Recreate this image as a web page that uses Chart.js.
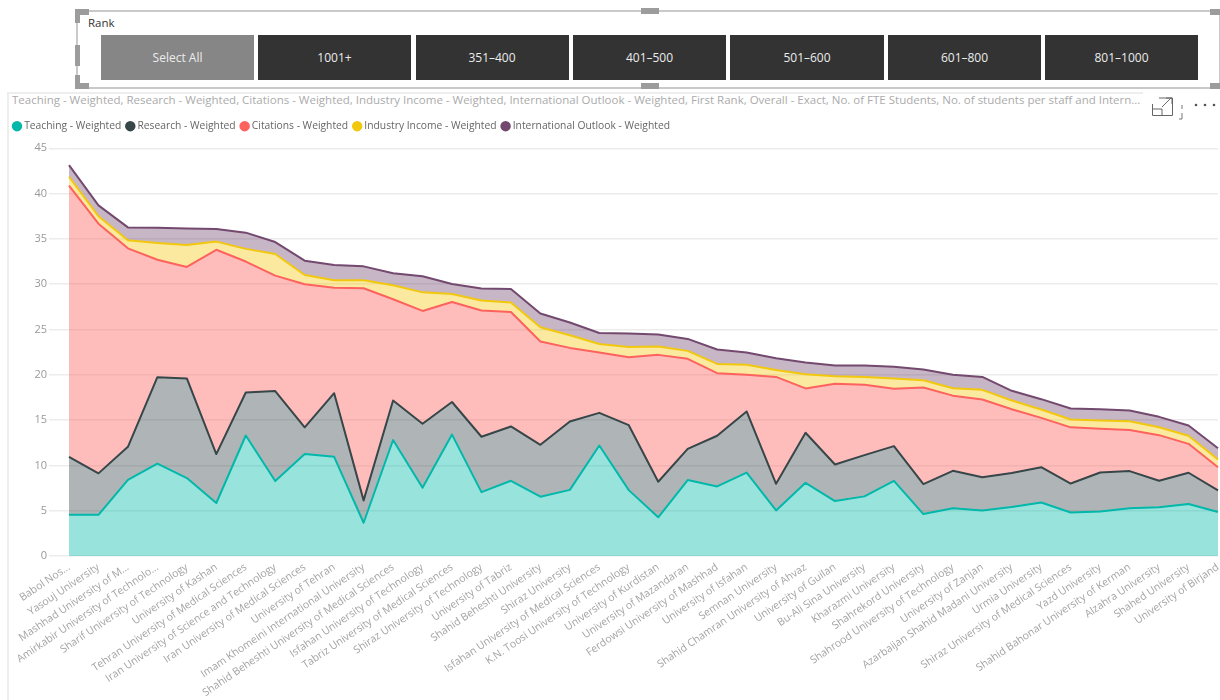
<!DOCTYPE html>
<html><head><meta charset="utf-8">
<script src="https://cdn.jsdelivr.net/npm/chart.js@4"></script>
<style>
html,body{margin:0;padding:0;background:#fff;width:1220px;height:700px;overflow:hidden;font-family:"Open Sans",sans-serif}
.abs{position:absolute}
#frame{left:76px;top:10px;width:1141px;height:75px;border:2px solid #c9c9c9}
.h{position:absolute;background:#9c9c9c}
.btn{position:absolute;top:35px;height:45px;width:153px;background:#333;color:#ececec;font-size:12px;line-height:46px;text-align:center}
#title{left:12px;top:92px;width:1132px;font-size:11.5px;color:#ababab;white-space:nowrap;overflow:hidden;line-height:16px}
#chartWrap{left:8px;top:114px;width:1212px;height:586px}
</style></head><body>
<div class="abs" id="frame"></div>
<div class="h" style="left:75px;top:9px;width:14px;height:6px"></div><div class="h" style="left:75px;top:9px;width:5px;height:14px"></div>
<div class="h" style="left:75px;top:83px;width:14px;height:6px"></div><div class="h" style="left:75px;top:75px;width:5px;height:14px"></div>
<div class="h" style="left:75px;top:45px;width:5px;height:21px"></div>
<div class="h" style="left:641px;top:8px;width:18px;height:6px"></div>
<div class="h" style="left:641px;top:83px;width:18px;height:6px"></div>
<div class="h" style="left:1210px;top:9px;width:10px;height:6px"></div>
<div class="h" style="left:1210px;top:83px;width:10px;height:6px"></div>
<div class="abs" style="left:88px;top:15px;font-size:11.5px;color:#333;line-height:16px">Rank</div>
<div class="btn" style="left:101px;background:#868686">Select All</div>
<div class="btn" style="left:258px">1001+</div>
<div class="btn" style="left:415.5px">351–400</div>
<div class="btn" style="left:573px">401–500</div>
<div class="btn" style="left:730px;width:154px">501–600</div>
<div class="btn" style="left:888px">601–800</div>
<div class="btn" style="left:1045px">801–1000</div>
<div class="abs" style="left:7px;top:92px;width:1136px;height:2px;background:#eee"></div>
<div class="abs" style="left:7px;top:92px;width:2px;height:608px;background:#eee"></div>
<div class="abs" id="title">Teaching - Weighted, Research - Weighted, Citations - Weighted, Industry Income - Weighted, International Outlook - Weighted, First Rank, Overall - Exact, No. of FTE Students, No. of students per staff and Intern...</div>
<svg class="abs" style="left:1150px;top:95px;z-index:2" width="70" height="30" fill="none" stroke="#666" stroke-width="1">
<path d="M2.5 9V20.5H22.5V3H9"/><path d="M2.5 14H12V20.5"/><path d="M12 12L21 3M16 3H22V9"/>
<path d="M32 10V14M32 18V24M32 24H29" stroke="#777"/>
<circle cx="46" cy="10" r="1.3" fill="#555" stroke="none"/><circle cx="55" cy="10" r="1.3" fill="#555" stroke="none"/><circle cx="64" cy="10" r="1.3" fill="#555" stroke="none"/>
</svg>
<div class="abs" id="chartWrap"><canvas id="c" width="1212" height="586"></canvas></div>
<script>
const categories = ["Babol Nos...","Yasouj University","Mashhad University of M...","Amirkabir University of Technolo...","Sharif University of Technology","University of Kashan","Tehran University of Medical Sciences","Iran University of Science and Technology","Iran University of Medical Sciences","University of Tehran","Imam Khomeini International University","Shahid Beheshti University of Medical Sciences","Isfahan University of Technology","Tabriz University of Medical Sciences","Shiraz University of Technology","University of Tabriz","Shahid Beheshti University","Shiraz University","Isfahan University of Medical Sciences","K.N. Toosi University of Technology","University of Kurdistan","University of Mazandaran","Ferdowsi University of Mashhad","University of Isfahan","Semnan University","Shahid Chamran University of Ahvaz","University of Guilan","Bu-Ali Sina University","Kharazmi University","Shahrekord University","Shahrood University of Technology","University of Zanjan","Azarbaijan Shahid Madani University","Urmia University","Shiraz University of Medical Sciences","Yazd University","Shahid Bahonar University of Kerman","Alzahra University","Shahed University","University of Birjand"];
const teaching = [4.55,4.55,8.4,10.2,8.6,5.85,13.3,8.27,11.25,10.95,3.67,12.8,7.53,13.4,7.05,8.3,6.55,7.3,12.2,7.27,4.27,8.38,7.68,9.2,5.03,8.08,6.06,6.58,8.3,4.63,5.26,5.03,5.4,5.9,4.8,4.92,5.26,5.37,5.73,4.85];
const research = [6.4,4.57,3.65,9.54,11.0,5.4,4.75,9.93,2.95,7.02,2.47,4.36,7.07,3.6,6.11,6.0,5.72,7.55,3.6,7.17,3.93,3.45,5.59,6.75,2.94,5.52,4.04,4.55,3.83,3.31,4.14,3.67,3.75,3.9,3.2,4.3,4.11,2.93,3.46,2.39];
const citations = [29.92,27.56,21.91,12.96,12.3,22.55,14.45,12.75,15.79,11.63,23.41,11.18,12.45,11.04,13.93,12.64,11.4,8.12,6.65,7.5,14.0,9.93,6.91,4.05,11.8,4.9,8.9,7.77,6.32,10.66,8.3,8.57,7.05,5.45,6.2,4.82,4.53,5.04,3.19,2.56];
const industry = [0.99,0.82,0.88,1.85,2.42,0.9,1.4,2.38,1.03,0.83,0.88,1.54,2.05,0.88,1.11,1.03,1.58,1.4,0.95,1.14,0.92,0.88,1.02,1.1,0.77,1.57,0.84,0.87,1.15,0.8,0.82,1.07,0.97,0.92,0.87,0.92,0.98,0.88,0.89,0.86];
const international = [1.29,1.2,1.43,1.69,1.84,1.39,1.79,1.32,1.58,1.69,1.54,1.32,1.77,1.11,1.32,1.5,1.51,1.4,1.22,1.47,1.32,1.32,1.59,1.35,1.29,1.28,1.18,1.25,1.3,1.18,1.48,1.43,1.06,1.14,1.21,1.24,1.18,1.14,1.13,1.24];
const yTicks = [0,5,10,15,20,25,30,35,40,45];
const seriesNames = ["Teaching - Weighted","Research - Weighted","Citations - Weighted","Industry Income - Weighted","International Outlook - Weighted"];
const seriesValues = [teaching,research,citations,industry,international];
const colors = ["#01B8AA","#374649","#FD625E","#F2C80F","#73496F"];
const fills = ["rgba(1,184,170,.4)","rgba(55,70,73,.4)","rgba(253,98,94,.42)","rgba(242,200,15,.4)","rgba(115,73,111,.4)"];
const FONT = '"Open Sans", sans-serif';
const legendGap = {id:'legendGap',beforeInit(chart){const f=chart.legend.fit;chart.legend.fit=function(){f.call(this);this.height+=7;};}};
new Chart(document.getElementById('c'), {
  type:'line',
  plugins:[legendGap],
  data:{labels:categories,datasets:seriesNames.map((n,i)=>({
    label:n,data:seriesValues[i],borderColor:colors[i],backgroundColor:fills[i],
    borderWidth:2,pointRadius:0,tension:0,fill:i===0?'origin':'-1',
    pointStyle:'circle',pointBackgroundColor:colors[i],borderJoinStyle:'round'
  }))},
  options:{
    responsive:false,animation:false,
    layout:{padding:{top:0,right:2,left:0,bottom:0}},
    plugins:{
      tooltip:{enabled:false},
      legend:{position:'top',align:'start',
        labels:{usePointStyle:true,pointStyle:'circle',boxWidth:4,boxHeight:6,padding:7,color:'#666',font:{family:FONT,size:10.3}}}
    },
    scales:{
      x:{stacked:true,offset:false,border:{display:false},grid:{display:false},
        afterFit(s){s.height=144;s.paddingRight=0;s.paddingLeft=0},
        ticks:{autoSkip:false,minRotation:34,maxRotation:34,color:'#a3a3a3',padding:-3,font:{family:FONT,size:10.5}}},
      y:{stacked:true,min:0,max:45,border:{display:false},
        afterFit(s){s.width=61},
        afterBuildTicks(s){s.ticks=yTicks.map(v=>({value:v}))},
        grid:{color:'#ececec',lineWidth:1.5,tickLength:20,tickColor:'#ececec'},
        ticks:{color:'#999',padding:2,font:{family:FONT,size:11}}}
    }
  }
});
</script>
</body></html>
